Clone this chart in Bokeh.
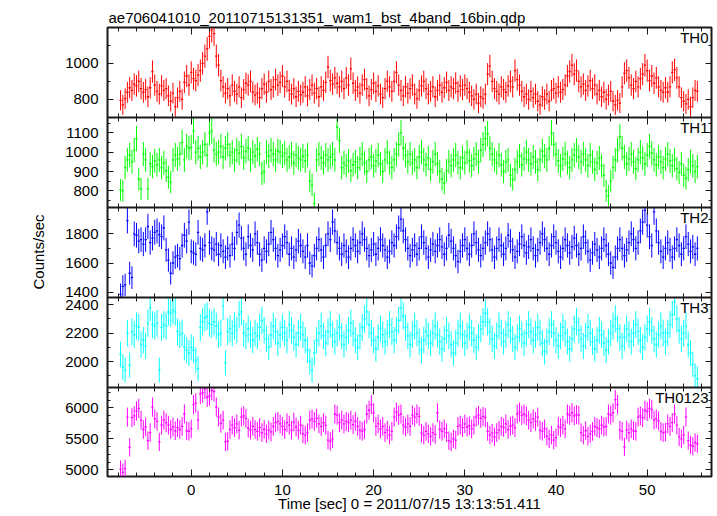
import numpy as np
from bokeh.plotting import figure
from bokeh.models import Range1d, LinearAxis, SingleIntervalTicker, FixedTicker, Label, ColumnDataSource
from bokeh.embed import file_html
from bokeh.resources import INLINE

# ---------------- data ----------------
TITLE = "ae706041010_20110715131351_wam1_bst_4band_16bin.qdp"
X_LABEL = "Time [sec] 0 = 2011/07/15 13:13:51.411"
Y_LABEL = "Counts/sec"
TIME_START = -7.75     # centre of first bin [s]
BIN_SEC = 0.25         # bin width [s]

BANDS = ["TH0", "TH1", "TH2", "TH3", "TH0123"]

TH0 = [
    795, 770, 805, 840, 865, 850, 885, 875, 900, 860, 840, 855, 815, 865, 955, 880, 845, 830, 875, 850,
    860, 820, 790, 835, 760, 810, 845, 800, 895, 930, 880, 950, 915, 905, 935, 960, 1000, 1040, 1080, 1150,
    1185, 1165, 1040, 990, 905, 870, 835, 860, 820, 880, 845, 830, 870, 810, 855, 890, 880, 900, 840, 825,
    835, 810, 860, 885, 840, 900, 855, 870, 910, 880, 895, 930, 870, 900, 850, 830, 860, 815, 845, 825,
    840, 870, 820, 855, 880, 835, 860, 815, 870, 850, 895, 980, 905, 885, 920, 890, 870, 900, 860, 920,
    880, 970, 890, 850, 870, 835, 880, 910, 860, 820, 855, 890, 845, 875, 830, 810, 860, 900, 870, 845,
    900, 950, 880, 850, 820, 870, 835, 860, 880, 830, 805, 850, 875, 900, 860, 830, 845, 870, 815, 850,
    880, 840, 865, 895, 850, 870, 860, 890, 845, 875, 855, 880, 860, 840, 820, 800, 830, 780, 815, 805,
    830, 940, 985, 900, 860, 845, 830, 870, 855, 840, 875, 900, 870, 960, 910, 880, 845, 815, 830, 800,
    845, 810, 830, 790, 770, 815, 800, 830, 790, 850, 860, 835, 870, 840, 855, 880, 930, 955, 990, 940,
    960, 900, 870, 885, 850, 875, 905, 860, 880, 830, 850, 815, 840, 800, 825, 845, 790, 770, 795, 780,
    870, 945, 960, 920, 880, 860, 900, 870, 915, 940, 990, 960, 905, 930, 890, 920, 870, 850, 840, 865,
    840, 870, 950, 965, 920, 870, 810, 790, 775, 800, 760, 810, 850, 845,
]

TH1 = [
    805, 800, 920, 960, 985, 950, 1010, 1070, 860, 810, 990, 960, 810, 940, 925, 955, 935, 960, 920, 945,
    905, 870, 845, 960, 985, 965, 990, 1050, 960, 1030, 1020, 1025, 1110, 1000, 1020, 975, 1000, 1040, 985, 1100,
    1110, 1010, 990, 1000, 1030, 975, 1020, 1040, 985, 1000, 960, 1010, 995, 1030, 970, 1005, 1020, 960, 1000, 980,
    1015, 990, 890, 900, 1000, 980, 1010, 990, 960, 1005, 1000, 980, 995, 960, 975, 990, 945, 985, 970, 960,
    980, 955, 985, 850, 830, 735, 960, 990, 970, 945, 985, 960, 975, 990, 960, 1130, 1060, 920, 945, 930,
    955, 905, 935, 950, 920, 965, 990, 945, 900, 960, 975, 930, 955, 985, 940, 900, 960, 1000, 945, 920,
    960, 990, 1040, 1100, 1020, 985, 950, 990, 945, 960, 920, 975, 1000, 960, 935, 970, 910, 950, 990, 940,
    900, 860, 840, 905, 950, 930, 960, 985, 945, 920, 970, 945, 1000, 955, 930, 965, 990, 950, 1010, 1040,
    1070, 1095, 1020, 990, 960, 945, 985, 935, 900, 950, 960, 880, 860, 910, 950, 980, 935, 965, 1000, 960,
    940, 975, 950, 910, 960, 1005, 980, 960, 1020, 1100, 1040, 990, 955, 930, 965, 990, 945, 920, 960, 985,
    1010, 975, 950, 990, 960, 930, 985, 950, 910, 945, 970, 930, 880, 800, 775, 850, 920, 960, 1010, 1080,
    1020, 975, 940, 965, 990, 950, 915, 960, 1000, 970, 940, 985, 1030, 995, 960, 935, 975, 950, 920, 965,
    990, 955, 930, 960, 915, 895, 940, 880, 865, 910, 950, 930, 900, 925,
]

TH2 = [
    1385, 1440, 1450, 1890, 1530, 1500, 1800, 1790, 1750, 1760, 1730, 1760, 1850, 1740, 1770, 1810, 1820, 1795, 1780, 1840,
    1690, 1620, 1530, 1600, 1640, 1650, 1630, 1720, 1790, 1750, 1880, 1680, 1670, 1660, 1810, 1700, 1690, 1720, 1950, 1740,
    1700, 1690, 1730, 1660, 1720, 1680, 1640, 1700, 1650, 1730, 1700, 1810, 1860, 1770, 1700, 1660, 1780, 1720, 1690, 1800,
    1740, 1660, 1620, 1700, 1680, 1730, 1810, 1760, 1700, 1650, 1690, 1720, 1780, 1740, 1660, 1700, 1640, 1690, 1750, 1720,
    1680, 1640, 1720, 1600, 1580, 1650, 1700, 1760, 1690, 1640, 1720, 1800, 1760, 1880, 1820, 1740, 1700, 1660, 1720, 1680,
    1640, 1700, 1760, 1720, 1680, 1740, 1800, 1760, 1700, 1650, 1690, 1730, 1660, 1700, 1760, 1720, 1690, 1640, 1680, 1740,
    1720, 1780, 1840, 1900, 1820, 1760, 1700, 1650, 1690, 1720, 1660, 1700, 1780, 1740, 1700, 1640, 1690, 1730, 1680, 1720,
    1760, 1710, 1660, 1700, 1790, 1750, 1700, 1650, 1610, 1680, 1720, 1760, 1700, 1660, 1720, 1800, 1740, 1690, 1650, 1700,
    1740, 1800, 1760, 1690, 1640, 1700, 1760, 1720, 1660, 1700, 1790, 1750, 1690, 1640, 1680, 1730, 1780, 1720, 1670, 1710,
    1760, 1700, 1650, 1690, 1740, 1800, 1760, 1700, 1660, 1720, 1780, 1740, 1680, 1640, 1700, 1760, 1720, 1670, 1710, 1770,
    1720, 1660, 1700, 1780, 1740, 1680, 1620, 1670, 1730, 1690, 1640, 1700, 1760, 1720, 1660, 1600, 1570, 1640, 1700, 1760,
    1700, 1650, 1690, 1740, 1800, 1760, 1700, 1740, 1820, 1880, 1960, 1860, 1780, 1720, 1950, 1820, 1740, 1680, 1640, 1700,
    1740, 1690, 1640, 1700, 1760, 1720, 1660, 1700, 1780, 1730, 1680, 1710, 1660, 1700,
]

TH3 = [
    2050, 1960, 1940, 2200, 1975, 2210, 2190, 2250, 2240, 2120, 2150, 2110, 2270, 2380, 2260, 2250, 2270, 1940, 2240, 2260,
    2250, 2350, 2340, 2360, 2350, 2210, 2190, 2200, 2100, 2080, 2060, 2100, 2080, 2010, 1950, 2240, 2280, 2310, 2320, 2270,
    2260, 2280, 2250, 2190, 2200, 2390, 1990, 2210, 2230, 2200, 2250, 2220, 2330, 2350, 2200, 2180, 2230, 2190, 2150, 2200,
    2180, 2240, 2290, 2220, 2160, 2100, 2190, 2250, 2210, 2130, 2190, 2240, 2200, 2150, 2260, 2220, 2170, 2120, 2200, 2240,
    2190, 2150, 2080, 2000, 1940, 2060, 2150, 2200, 2250, 2180, 2130, 2210, 2260, 2190, 2140, 2200, 2240, 2180, 2120, 2170,
    2220, 2270, 2200, 2150, 2100, 2180, 2240, 2300, 2350, 2260, 2200, 2150, 2090, 2170, 2230, 2190, 2140, 2200, 2260, 2210,
    2150, 2220, 2290, 2380, 2320, 2240, 2180, 2120, 2190, 2250, 2200, 2140, 2080, 2150, 2210, 2180, 2130, 2200, 2250, 2190,
    2140, 2090, 2160, 2220, 2180, 2120, 2060, 2130, 2200, 2250, 2190, 2130, 2180, 2240, 2200, 2150, 2100, 2170, 2230, 2280,
    2340, 2280, 2210, 2160, 2110, 2180, 2250, 2200, 2140, 2190, 2260, 2220, 2160, 2100, 2170, 2230, 2190, 2130, 2200, 2260,
    2210, 2150, 2190, 2240, 2200, 2130, 2070, 2140, 2210, 2260, 2200, 2150, 2110, 2180, 2240, 2200, 2140, 2090, 2160, 2230,
    2280, 2220, 2160, 2110, 2180, 2240, 2200, 2140, 2090, 2150, 2220, 2190, 2130, 2080, 2140, 2200, 2250, 2300, 2230, 2170,
    2110, 2170, 2230, 2190, 2140, 2200, 2260, 2210, 2150, 2100, 2170, 2230, 2280, 2220, 2160, 2120, 2190, 2250, 2200, 2140,
    2200, 2260, 2330, 2420, 2300, 2220, 2160, 2200, 2250, 2120, 2060, 1980, 1900, 1880,
]

TH0123 = [
    5010, 4960, 5020, 5850, 5360, 5840, 5870, 5950, 5990, 5800, 5650, 5690, 5470, 5600, 6010, 5820, 5780, 5450, 5720, 5800,
    5760, 5720, 5650, 5690, 5630, 5680, 5650, 5700, 5900, 5630, 5620, 5660, 6050, 6080, 5800, 6220, 6240, 6300, 6170, 6190,
    6280, 6260, 6010, 5850, 5750, 5800, 5450, 5460, 5650, 5720, 5680, 5740, 5640, 5850, 5870, 5830, 5670, 5640, 5700, 5650,
    5620, 5680, 5600, 5650, 5580, 5640, 5610, 5700, 5760, 5780, 5740, 5700, 5650, 5760, 5720, 5640, 5770, 5690, 5640, 5720,
    5580, 5560, 5600, 5800, 5820, 5780, 5830, 5740, 5700, 5760, 5720, 5480, 5460, 5500, 5900, 5880, 5760, 5800, 5740, 5780,
    5760, 5800, 5730, 5780, 5700, 5640, 5620, 5650, 5900, 5960, 6050, 5920, 5700, 5740, 5660, 5700, 5600, 5640, 5560, 5620,
    5850, 5930, 5880, 5900, 5720, 5690, 5740, 5700, 5880, 5850, 5900, 5860, 5590, 5560, 5620, 5580, 5540, 5600, 5570, 5920,
    5650, 5620, 5660, 5600, 5470, 5450, 5500, 5480, 5700, 5720, 5680, 5740, 5690, 5710, 5660, 5720, 5850, 5880, 5830, 5860,
    5840, 5620, 5560, 5590, 5530, 5600, 5640, 5700, 5680, 5740, 5650, 5700, 5720, 5680, 5900, 5930, 5880, 5900, 5870, 5800,
    5760, 5820, 5780, 5850, 5640, 5620, 5660, 5540, 5500, 5560, 5480, 5520, 5700, 5680, 5720, 5660, 5900, 5880, 5920, 5870,
    5890, 5880, 5600, 5560, 5630, 5540, 5580, 5620, 5700, 5680, 5660, 5720, 5690, 5700, 5900, 5880, 5920, 6130, 6050, 5640,
    5620, 5370, 5640, 5600, 5660, 5630, 5620, 5850, 5870, 5840, 5960, 5940, 5990, 5970, 5800, 5820, 5790, 5620, 5600, 5610,
    5740, 5700, 5760, 5900, 5720, 5530, 5500, 5560, 5850, 5470, 5400, 5380, 5440, 5420,
]

SERIES = [TH0, TH1, TH2, TH3, TH0123]
COLORS = ["#ff0000", "#00ff00", "#0000ff", "#00ffff", "#ff00ff"]

X_RANGE = (-9.18, 57.05)
X_MAJOR, X_MINOR = 10, 5
Y_RANGES = [(700, 1199), (714, 1179), (1364, 1980), (1817, 2451), (4892, 6327)]
Y_MAJOR = [200, 100, 200, 200, 500]
Y_MINOR = [2, 2, 2, 2, 4]

# ---------------- styling / layout ----------------
FONT = "Liberation Sans"
FS = "15px"
AX_COLOR = "#1a1a1a"
LEFT, TOP, RIGHT = 107, 27, 3
FRAME_W = 604
PANEL_H = [90, 90, 90, 90, 89]          # pixel height of each stacked panel
FRAME_H = sum(PANEL_H)


def style_axis(ax, tick_in, minor_in, show_labels):
    ax.axis_line_color = None
    ax.major_tick_in = tick_in
    ax.major_tick_out = 0
    ax.minor_tick_in = minor_in
    ax.minor_tick_out = 0
    ax.major_tick_line_color = AX_COLOR
    ax.minor_tick_line_color = AX_COLOR
    ax.major_tick_line_width = 1
    ax.minor_tick_line_width = 1
    if show_labels:
        ax.major_label_text_font = FONT
        ax.major_label_text_font_size = FS
        ax.major_label_text_color = "black"
    else:
        ax.major_label_text_font_size = "0px"
        ax.major_label_text_color = None
        ax.major_label_standoff = 0


def x_ticker():
    return SingleIntervalTicker(interval=X_MAJOR, num_minor_ticks=X_MINOR)


# default y range = pixel rows of the whole stacked frame (used by the shared y axes)
p = figure(x_range=Range1d(*X_RANGE), y_range=Range1d(0, FRAME_H),
           frame_width=FRAME_W, frame_height=FRAME_H,
           min_border_left=LEFT, min_border_right=RIGHT,
           min_border_top=TOP, min_border_bottom=0,
           toolbar_location=None, output_backend="svg",
           x_axis_type=None, y_axis_type=None, title=TITLE)
p.background_fill_color = "white"
p.border_fill_color = "white"
p.outline_line_color = AX_COLOR
p.outline_line_width = 2
p.title.text_font = FONT
p.title.text_font_size = FS
p.title.text_font_style = "normal"
p.title.text_color = "black"
p.title.align = "left"
p.title.offset = 1
p.title.standoff = 4

px_x = FRAME_W / (X_RANGE[1] - X_RANGE[0])
n = len(BANDS)

# each panel gets its own y scale occupying its own slot of the frame
extra = {}
major_pos, minor_pos, overrides = [], [], {}
slot_top = 0
for k in range(n):
    y0, y1 = Y_RANGES[k]
    h = PANEL_H[k]
    scale = (y1 - y0) / h
    bottom_px = FRAME_H - slot_top - h
    extra[f"p{k}"] = Range1d(y0 - bottom_px * scale, y1 + slot_top * scale)
    # tick positions of this panel expressed on the shared pixel-row axis
    step = Y_MAJOR[k] / Y_MINOR[k]
    first = np.ceil(y0 / step) * step
    for val in np.arange(first, y1 + 1e-9, step):
        pos = round(float(bottom_px + (val - y0) / scale), 3)
        if abs(val / Y_MAJOR[k] - round(val / Y_MAJOR[k])) < 1e-9:
            major_pos.append(pos)
            overrides[pos] = str(int(val))
        else:
            minor_pos.append(pos)
    slot_top += h
p.extra_y_ranges = extra

# shared y axes (left with labels, right with ticks only)
ax = LinearAxis(ticker=FixedTicker(ticks=major_pos, minor_ticks=minor_pos))
style_axis(ax, 6, 3, True)
ax.major_label_standoff = 9
ax.major_label_overrides = overrides
ax.axis_label = Y_LABEL
ax.axis_label_text_font = FONT
ax.axis_label_text_font_size = FS
ax.axis_label_text_font_style = "normal"
ax.axis_label_text_color = "black"
ax.axis_label_standoff = 15
p.add_layout(ax, "left")

ax = LinearAxis(ticker=FixedTicker(ticks=major_pos, minor_ticks=minor_pos))
style_axis(ax, 6, 3, False)
p.add_layout(ax, "right")

for k in range(n):
    rn = f"p{k}"
    y0, y1 = Y_RANGES[k]
    px_y = PANEL_H[k] / (y1 - y0)
    last = k == n - 1

    # x ticks at the top of the panel
    ax = LinearAxis(y_range_name=rn, fixed_location=y1, ticker=x_ticker())
    style_axis(ax, 7, 4, False)
    p.add_layout(ax, "above")

    # x ticks at the bottom of the panel
    if not last:
        ax = LinearAxis(y_range_name=rn, fixed_location=y0, ticker=x_ticker())
        style_axis(ax, 7, 4, False)
        ax.axis_line_color = AX_COLOR
        ax.axis_line_width = 2
        p.add_layout(ax, "below")
    else:
        ax = LinearAxis(ticker=x_ticker())
        style_axis(ax, 7, 4, True)
        ax.major_label_standoff = 8
        ax.axis_label = X_LABEL
        ax.axis_label_text_font = FONT
        ax.axis_label_text_font_size = FS
        ax.axis_label_text_font_style = "normal"
        ax.axis_label_text_color = "black"
        ax.axis_label_standoff = -3
        p.add_layout(ax, "below")

    v = np.asarray(SERIES[k], dtype=float)
    t = TIME_START + BIN_SEC * np.arange(len(v))
    err = np.sqrt(v * BIN_SEC) / BIN_SEC          # Poisson error of the rate
    src = ColumnDataSource(dict(t=t, v=v,
                                lo=np.maximum(v - err, y0), hi=np.minimum(v + err, y1),
                                tl=t - BIN_SEC / 2, tr=t + BIN_SEC / 2))
    p.segment(x0="t", y0="lo", x1="t", y1="hi", source=src, y_range_name=rn,
              line_color=COLORS[k], line_width=1)
    p.segment(x0="tl", y0="v", x1="tr", y1="v", source=src, y_range_name=rn,
              line_color=COLORS[k], line_width=1.3)

    p.add_layout(Label(x=X_RANGE[1] - 3 / px_x, y=y1 - 1 / px_y, y_range_name=rn,
                       text=BANDS[k], text_align="right", text_baseline="top",
                       text_font=FONT, text_font_size=FS, text_color="black"))

open("out.html", "w").write(file_html(p, INLINE))
